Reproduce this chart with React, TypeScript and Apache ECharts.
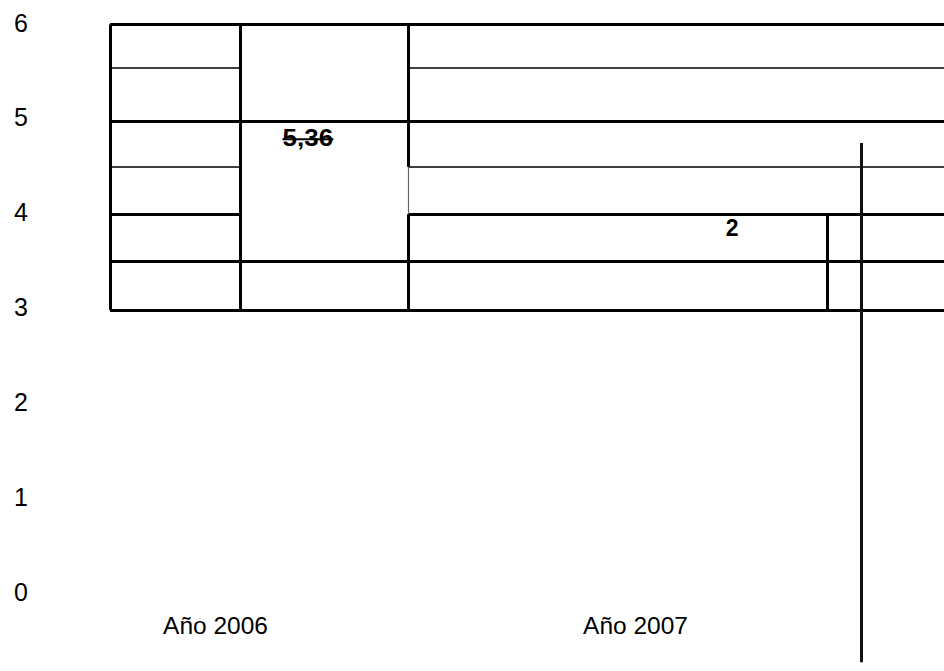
import React, { useEffect, useRef } from "react";
import * as echarts from "echarts";

// Category labels (x axis)
const categories = ["Año 2006", "Año 2007"];
// Y axis range / ticks
const yMin = 0;
const yMax = 6;
const yStep = 1;

// Table-like rules, in data units: x (category units, Año 2006 = 0, Año 2007 = 1), y (axis value)
const xEdge = [-0.2512, 0.0583, 0.4583, 1.456, 1.5369, 1.76];
const yRows = [5.98, 5.52, 4.96, 4.48, 3.98, 3.48, 2.97];

// [x1, y1, x2, y2]
const thickSegments: number[][] = [
  [xEdge[0], yRows[0], xEdge[5], yRows[0]],
  [xEdge[0], yRows[2], xEdge[5], yRows[2]],
  [xEdge[0], yRows[4], xEdge[1], yRows[4]],
  [xEdge[2], yRows[4], xEdge[5], yRows[4]],
  [xEdge[0], yRows[5], xEdge[5], yRows[5]],
  [xEdge[0], yRows[6], xEdge[5], yRows[6]],
  [xEdge[0], yRows[0], xEdge[0], yRows[6]],
  [xEdge[1], yRows[0], xEdge[1], yRows[6]],
  [xEdge[2], yRows[0], xEdge[2], yRows[3]],
  [xEdge[2], yRows[4], xEdge[2], yRows[6]],
  [xEdge[3], yRows[4], xEdge[3], yRows[6]],
];
const thinSegments: number[][] = [
  [xEdge[0], yRows[1], xEdge[1], yRows[1]],
  [xEdge[2], yRows[1], xEdge[5], yRows[1]],
  [xEdge[0], yRows[3], xEdge[1], yRows[3]],
  [xEdge[2], yRows[3], xEdge[5], yRows[3]],
];
const faintSegments: number[][] = [[xEdge[2], yRows[3], xEdge[2], yRows[4]]];
const longRule: number[][] = [[xEdge[4], 4.73, xEdge[4], -0.74]];

// Value annotations
const annotationLabels = ["5,36", "2"];
const annotationX = [0.22, 1.2298];
const annotationY = [4.78, 3.83];

const FONT = '"Liberation Sans", Arial, Helvetica, sans-serif';

function toLines(segs: number[][]) {
  return segs.map((s) => ({ coords: [[s[0], s[1]], [s[2], s[3]]] }));
}

function linesSeries(segs: number[][], color: string, width: number) {
  return {
    type: "lines",
    coordinateSystem: "cartesian2d",
    xAxisIndex: 1,
    clip: false,
    silent: true,
    lineStyle: { color, width, opacity: 1 },
    data: toLines(segs),
  };
}

export default function App() {
  const ref = useRef<HTMLDivElement>(null);
  useEffect(() => {
    document.body.style.margin = "0";
    if (!ref.current) return;
    const chart = echarts.init(ref.current, undefined, { renderer: "svg" });
    chart.setOption({
      animation: false,
      backgroundColor: "#ffffff",
      grid: { left: 5.5, right: 98.5, top: 22.5, bottom: 79 },
      xAxis: [
        {
          type: "category",
          data: categories,
          boundaryGap: true,
          axisLine: { show: false },
          axisTick: { show: false },
          splitLine: { show: false },
          axisLabel: { color: "#000", fontSize: 24.5, fontFamily: FONT, margin: 21 },
        },
        {
          type: "value",
          min: -0.5,
          max: 1.5,
          show: false,
        },
      ],
      yAxis: {
        type: "value",
        min: yMin,
        max: yMax,
        interval: yStep,
        axisLine: { show: false },
        axisTick: { show: false },
        splitLine: { show: false },
        axisLabel: { color: "#000", fontSize: 25, fontFamily: FONT, align: "left", margin: -8.5 },
      },
      series: [
        linesSeries(thickSegments, "#000", 3),
        linesSeries(thinSegments, "#000", 1.6),
        linesSeries(faintSegments, "#666", 1.2),
        linesSeries(longRule, "#111", 3),
        {
          type: "custom",
          coordinateSystem: "cartesian2d",
          xAxisIndex: 1,
          clip: false,
          silent: true,
          data: annotationX.map((x, i) => [x, annotationY[i]]),
          renderItem: (params: any, api: any) => {
            const p = api.coord([api.value(0), api.value(1)]);
            const i = params.dataIndex;
            const label = annotationLabels[i];
            const children: any[] = [
              {
                type: "text",
                x: p[0],
                y: p[1],
                scaleX: i === 0 ? 1.13 : 1,
                style: {
                  text: label,
                  font: `bold 23px ${FONT}`,
                  fill: "#000",
                  align: "center",
                  verticalAlign: "middle",
                },
              },
            ];
            if (i === 0) {
              children.push({
                type: "line",
                shape: { x1: p[0] - 25.5, y1: p[1] + 1, x2: p[0] + 25.5, y2: p[1] + 1 },
                style: { stroke: "#000", lineWidth: 2 },
              });
            }
            return { type: "group", children };
          },
        },
      ],
    });
    return () => chart.dispose();
  }, []);
  return <div ref={ref} style={{ width: 944, height: 671 }} />;
}
